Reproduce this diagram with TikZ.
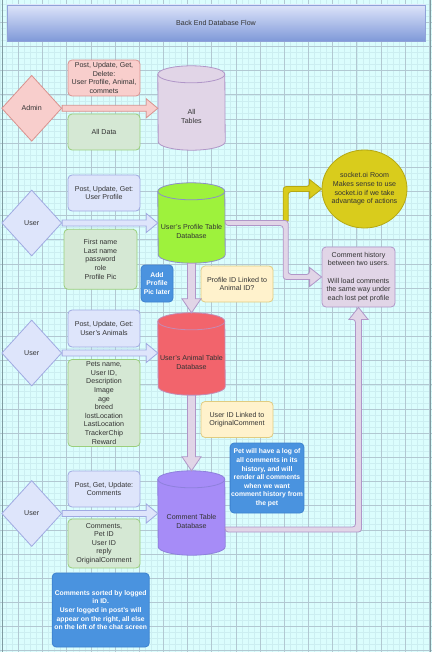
\documentclass[tikz,border=0pt]{standalone}
\usepackage{fontspec}
\setmainfont{Liberation Sans}
\usetikzlibrary{shapes.geometric,calc}

\definecolor{bgc}{HTML}{DBFDFD}
\definecolor{gminor}{HTML}{CCEEF1}
\definecolor{gmajor}{HTML}{B2C8D2}
\definecolor{framec}{HTML}{7F9AA0}
\definecolor{txt}{HTML}{333333}
\definecolor{titleT}{HTML}{DDE4FA}
\definecolor{titleB}{HTML}{7E98D8}
\definecolor{titleS}{HTML}{90A2D8}
\definecolor{pinkF}{HTML}{F8CECC}
\definecolor{pinkS}{HTML}{D9928F}
\definecolor{greenF}{HTML}{D5E8D4}
\definecolor{greenS}{HTML}{9ACF7C}
\definecolor{lavF}{HTML}{DEE5FB}
\definecolor{lavS}{HTML}{A0AAE2}
\definecolor{purF}{HTML}{E1D5E7}
\definecolor{purS}{HTML}{B096C8}
\definecolor{limeF}{HTML}{9EF23C}
\definecolor{limeS}{HTML}{8C8FC8}
\definecolor{redF}{HTML}{F2646C}
\definecolor{redS}{HTML}{C48AB4}
\definecolor{vioF}{HTML}{A68CF7}
\definecolor{vioS}{HTML}{8E80DC}
\definecolor{blueF}{HTML}{4A93DF}
\definecolor{blueS}{HTML}{3C82CF}
\definecolor{yelF}{HTML}{FFF2CC}
\definecolor{yelS}{HTML}{E0CC80}
\definecolor{sockF}{HTML}{D9CC1C}
\definecolor{sockS}{HTML}{B5A812}

% database cylinder: name, centre x, centre y, height, fill, stroke, text
\newcommand\dbcyl[7]{%
  \node[cylnode, minimum height=#4pt] (#1) at (#2,#3) {};
  \path[draw=#6, fill=#5, line width=0.8pt]
    ($(#1.north west)+(0,8.5)$) arc[start angle=180, end angle=0, x radius=33.5pt, y radius=8.5pt]
    -- ($(#1.south east)+(0,-8.5)$) arc[start angle=0, end angle=-180, x radius=33.5pt, y radius=8.5pt]
    -- cycle;
  \draw[#6, line width=0.8pt] ($(#1.north west)+(0,8.5)$)
    arc[start angle=180, end angle=360, x radius=33.5pt, y radius=8.5pt];
  \node[cyltext] (#1-t) at ($(#1.center)+(0,8.5)$) {#7};
}
% block arrow pointing right, from one anchor to another
\newcommand\flowH[3]{%
  \path[#1] let \p1=(#2), \p2=(#3) in
    (\x1,\y1+3pt) -- (\x2-11.5pt,\y1+3pt) -- (\x2-11.5pt,\y1+9.5pt) -- (\x2,\y1)
    -- (\x2-11.5pt,\y1-9.5pt) -- (\x2-11.5pt,\y1-3pt) -- (\x1,\y1-3pt) -- cycle;
}
% block arrow pointing down
\newcommand\flowV[3]{%
  \path[#1] let \p1=(#2), \p2=(#3) in
    (\x1-4pt,\y1) -- (\x1-4pt,\y2+14pt) -- (\x1-9.5pt,\y2+14pt) -- (\x1,\y2)
    -- (\x1+9.5pt,\y2+14pt) -- (\x1+4pt,\y2+14pt) -- (\x1+4pt,\y1) -- cycle;
}

\begin{document}
\begin{tikzpicture}[x=1pt, y=-1pt,
  every node/.style={font=\fontsize{7.1}{8.6}\selectfont, text=txt},
  titlebar/.style={rectangle, minimum width=418pt, minimum height=36.7pt,
    top color=titleT, bottom color=titleB, draw=titleS, line width=0.8pt},
  diam/.style={diamond, minimum width=60pt, minimum height=66pt, inner sep=0pt,
    line width=0.8pt},
  box/.style={rectangle, rounded corners=4pt, minimum width=72pt, align=center,
    inner sep=1pt, line width=0.8pt},
  greenbox/.style={box, fill=greenF, draw=greenS},
  lavbox/.style={box, fill=lavF, draw=lavS},
  yellowbox/.style={box, fill=yelF, draw=yelS},
  bluebox/.style={box, fill=blueF, draw=blueS, text=white,
    font=\fontsize{6.8}{8.6}\selectfont\bfseries},
  cylnode/.style={rectangle, minimum width=67pt, inner sep=0pt},
  cyltext/.style={align=center, inner sep=0pt},
  pinkarrow/.style={fill=pinkF, draw=pinkS, line width=0.8pt},
  lavarrow/.style={fill=lavF, draw=lavS, line width=0.8pt},
  purarrow/.style={fill=purF, draw=purS, line width=0.8pt},
  yelarrow/.style={fill=sockF, draw=sockS, line width=0.8pt},
]
\useasboundingbox (0,0) rectangle (432,652);

% paper and grid
\fill[bgc] (0,0) rectangle (432,652);
\foreach \k in {-3,...,68}
  \draw[gminor, line width=0.35pt] ({18.3+6.0425*\k},0) -- ({18.3+6.0425*\k},652);
\foreach \k in {-4,...,105}
  \draw[gminor, line width=0.35pt] (0,{22.2+6.0425*\k}) -- (432,{22.2+6.0425*\k});
\foreach \k in {-1,...,17}
  \draw[gmajor, line width=0.55pt] ({18.3+24.17*\k},0) -- ({18.3+24.17*\k},652);
\foreach \k in {-1,...,26}
  \draw[gmajor, line width=0.55pt] (0,{22.2+24.17*\k}) -- (432,{22.2+24.17*\k});
\draw[framec, line width=0.8pt] (2.7,0) -- (2.7,652);
\draw[framec, line width=0.8pt] (430.5,0) -- (430.5,652);

% title
\node[titlebar] (title) at (216,23.3) {Back End Database Flow};

% admin row
\node[diam, fill=pinkF, draw=pinkS] (admin) at (31.7,108.3) {Admin};
\node[box, fill=pinkF, draw=pinkS, minimum height=36pt] (opsA) at (104,78)
  {Post, Update, Get,\\Delete:\\User Profile, Animal,\\commets};
\node[greenbox, minimum height=36pt] (dataA) at (104,132) {All Data};
\dbcyl{alltab}{191.5}{108}{84}{purF}{purS}{All\\Tables}

% user profile row
\node[diam, fill=lavF, draw=lavS] (user1) at (31.7,223) {User};
\node[lavbox, minimum height=36pt] (opsU1) at (104,193) {Post, Update, Get:\\User Profile};
\node[greenbox, minimum width=73pt, minimum height=60pt] (fieldsU1) at (100.5,259.3)
  {First name\\Last name\\password\\role\\Profile Pic};
\dbcyl{prof}{191.5}{223}{80}{limeF}{limeS}{User's Profile Table\\Database}
\node[bluebox, minimum width=32pt, minimum height=37pt, inner sep=0pt] (addpic) at (157,283.5)
  {Add\\Profile\\Pic later};
\node[yellowbox, minimum height=36pt] (link1) at (237,284) {Profile ID Linked to\\Animal ID?};
\node[ellipse, fill=sockF, draw=sockS, line width=0.8pt, minimum width=85pt,
  minimum height=78pt, inner sep=0pt] (sock) at (364.5,189) {};
\node[cyltext] (sock-t) at (sock.center)
  {socket.oi Room\\Makes sense to use\\socket.io if we take\\advantage of actions};
\node[box, fill=purF, draw=purS, minimum width=73pt, minimum height=60pt] (hist) at (358.5,277)
  {Comment history\\between two users.\\[8.6pt]Will load comments\\the same way under\\each lost pet profile};

% animal row
\node[diam, fill=lavF, draw=lavS] (user2) at (31.7,353) {User};
\node[lavbox, minimum height=37pt] (opsU2) at (104,328.5) {Post, Update, Get:\\User's Animals};
\node[greenbox, minimum height=87pt, inner sep=0pt] (fieldsU2) at (104,403)
  {Pets name,\\User ID,\\Description\\Image\\age\\breed\\lostLocation\\LastLocation\\TrackerChip\\Reward};
\dbcyl{anim}{191.5}{354}{82}{redF}{redS}{User's Animal Table\\Database}
\node[yellowbox, minimum height=36pt] (link2) at (237,419.5) {User ID Linked to\\OriginalComment};
\node[bluebox, minimum width=72pt, minimum height=70pt] (petlog) at (267,478)
  {Pet will have a log of\\all comments in its\\history, and will\\render all comments\\when we want\\comment history from\\the pet};

% comment row
\node[diam, fill=lavF, draw=lavS] (user3) at (31.7,513.5) {User};
\node[lavbox, minimum height=36pt] (opsU3) at (104,489) {Post, Get, Update:\\Comments};
\node[greenbox, minimum height=49pt] (fieldsU3) at (104,543.5)
  {Comments,\\Pet ID\\User ID\\reply\\OriginalComment};
\dbcyl{cmt}{191.5}{513}{84}{vioF}{vioS}{Comment Table\\Database}
\node[bluebox, minimum width=97pt, minimum height=74pt] (sorted) at (100.7,610)
  {Comments sorted by logged\\in ID.\\User logged in post's will\\appear on the right, all else\\on the left of the chat screen};

% straight block arrows
\flowH{pinkarrow}{admin.east}{alltab.west}
\flowH{lavarrow}{user1.east}{prof.west}
\flowH{lavarrow}{user2.east}{anim.west}
\flowH{lavarrow}{user3.east}{cmt.west}
\flowV{purarrow}{prof.south}{anim.north}
\flowV{purarrow}{anim.south}{cmt.north}

% profile table to the socket room
\path[yelarrow] let \p1=(prof.east), \p2=(sock.west) in
  (\x1+63pt,\y1) [rounded corners=3pt] -- (\x1+58pt,\y1) -- (\x1+58pt,\y2+2.5pt)
  -- (\x2-12pt,\y2+2.5pt) [sharp corners] -- (\x2-12pt,\y2+9.5pt) -- (\x2,\y2)
  -- (\x2-12pt,\y2-9.5pt) -- (\x2-12pt,\y2-2.5pt) [rounded corners=3pt]
  -- (\x1+63pt,\y2-2.5pt) -- (\x1+63pt,\y1) -- cycle;

% profile table to the comment history
\path[purarrow] let \p1=(prof.east), \p2=(hist.west) in
  (\x1,\y1+2.5pt) [rounded corners=3pt] -- (\x1+63pt,\y1+2.5pt) -- (\x1+63pt,\y2+2.5pt)
  -- (\x2-12pt,\y2+2.5pt) [sharp corners] -- (\x2-12pt,\y2+9.5pt) -- (\x2,\y2)
  -- (\x2-12pt,\y2-9.5pt) -- (\x2-12pt,\y2-2.5pt) [rounded corners=3pt]
  -- (\x1+58pt,\y2-2.5pt) -- (\x1+58pt,\y1-2.5pt) -- (\x1,\y1-2.5pt) [sharp corners] -- cycle;

% comment table up to the comment history
\path[purarrow] let \p1=($(cmt.east)+(0,16.5)$), \p2=(hist.south) in
  (\x1,\y1+2.5pt) [rounded corners=3pt] -- (\x2-3pt,\y1+2.5pt) -- (\x2-3pt,\y2-12pt)
  [sharp corners] -- (\x2-9.5pt,\y2-12pt) -- (\x2,\y2) -- (\x2+9.5pt,\y2-12pt)
  -- (\x2+3pt,\y2-12pt) [rounded corners=3pt] -- (\x2+3pt,\y1-2.5pt)
  -- (\x1,\y1-2.5pt) [sharp corners] -- cycle;
\end{tikzpicture}
\end{document}
